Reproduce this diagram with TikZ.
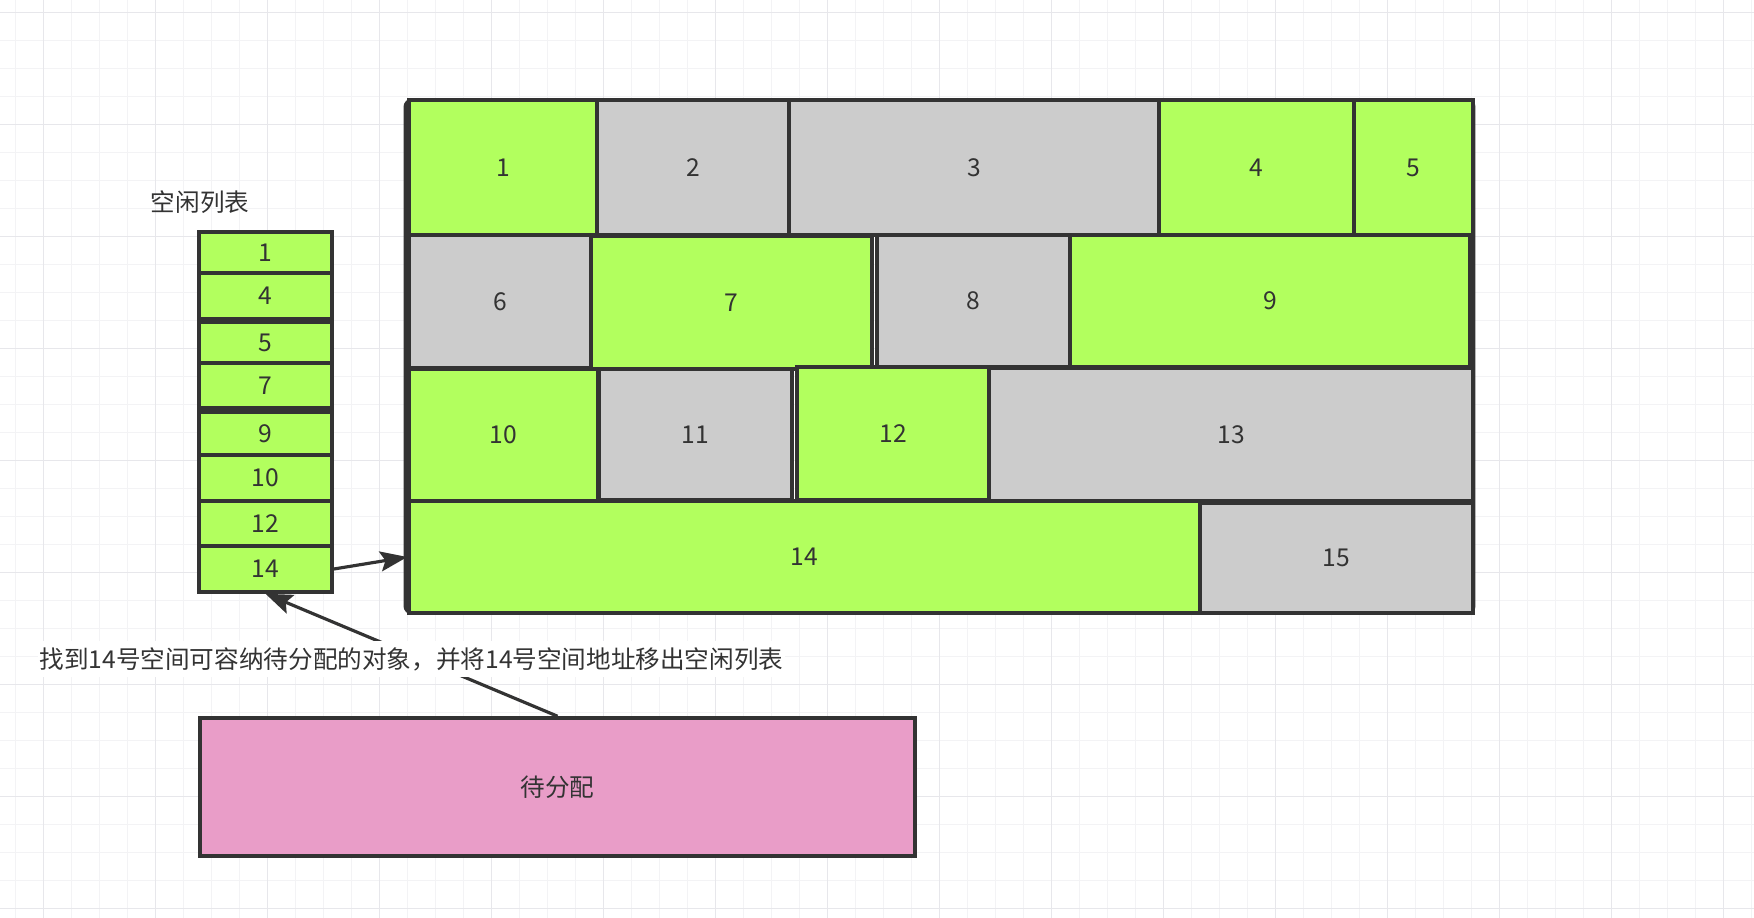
\documentclass[tikz,border=0pt]{standalone}
\usepackage{fontspec}
\setmainfont{Noto Sans CJK SC}
\usetikzlibrary{arrows.meta}

\definecolor{freegreen}{RGB}{178,255,94}
\definecolor{usedgray}{RGB}{204,204,204}
\definecolor{waitpink}{RGB}{233,157,200}
\definecolor{edgegray}{RGB}{51,51,51}
\definecolor{gridminor}{RGB}{243,243,245}
\definecolor{gridmajor}{RGB}{231,231,235}

\tikzset{
	txt/.style={text=edgegray,font=\fontsize{7}{9}\selectfont,inner sep=0pt},
	cell/.style={txt,draw=edgegray,line width=1pt},
	arr/.style={draw=edgegray,line width=0.9pt,-{Stealth[length=0.27cm,width=0.2cm,inset=0.05cm]}},
	note/.style={txt,fill=white,inner xsep=0.02cm,inner ysep=0.06cm,yshift=-0.04cm}
}

\begin{document}
\begin{tikzpicture}[x=0.01cm,y=-0.01cm]
	\useasboundingbox[fill=white] (0,0) rectangle (1754,918);
	% background grid
	\foreach \k in {0,...,62} \draw[gridminor,line width=0.3pt] ({15.6+28*\k},0) -- ({15.6+28*\k},918);
	\foreach \k in {0,...,32} \draw[gridminor,line width=0.3pt] (0,{12.7+28*\k}) -- (1754,{12.7+28*\k});
	\foreach \k in {0,...,15} \draw[gridmajor,line width=0.4pt] ({43.6+112*\k},0) -- ({43.6+112*\k},918);
	\foreach \k in {0,...,8} \draw[gridmajor,line width=0.4pt] (0,{12.7+112*\k}) -- (1754,{12.7+112*\k});
	% heap
	\draw[edgegray,line width=1.4pt,rounded corners=0.06cm] (406,101) rectangle (1473,612);
	\foreach \n/\xa/\ya/\xb/\yb/\c in {
		1/409/100/597/235/freegreen,2/597/100/789/235/usedgray,3/789/100/1159/235/usedgray,
		4/1159/100/1354/235/freegreen,5/1354/100/1473/235/freegreen,
		6/409/235/591/368/usedgray,7/591/236/872/369/freegreen,8/877/235/1070/367/usedgray,
		9/1070/235/1470/367/freegreen,
		10/409/369/598/501/freegreen,11/599/369/792/500/usedgray,12/797/367/989/500/freegreen,
		13/989/368/1473/501/usedgray,
		14/409/501/1200/613/freegreen,15/1200/503/1473/613/usedgray}
	{
		\pgfmathsetmacro\w{(\xb-\xa)*0.01}
		\pgfmathsetmacro\h{(\yb-\ya)*0.01}
		\node[cell,fill=\c,minimum width=\w cm,minimum height=\h cm] (c\n) at ({(\xa+\xb)/2},{(\ya+\yb)/2}) {\n};
	}
	% free list
	\node[txt] (title) at (200,202) {空闲列表};
	\foreach \n/\ya/\yb in {1/232/273,4/273/319,5/322/363,7/363/408,9/412/455,10/455/501,12/501/546,14/546/592}
	{
		\pgfmathsetmacro\h{(\yb-\ya)*0.01}
		\node[cell,fill=freegreen,minimum width=1.33cm,minimum height=\h cm] (l\n) at (265.5,{(\ya+\yb)/2}) {\n};
	}
	\node[cell,fill=waitpink,minimum width=7.15cm,minimum height=1.38cm] (wait) at (557.5,787) {待分配};
	\draw[arr] (l14.east) -- (c14.west);
	\draw[arr] (wait.north) -- node[note]{找到14号空间可容纳待分配的对象，并将14号空间地址移出空闲列表} (l14.south);
\end{tikzpicture}
\end{document}
